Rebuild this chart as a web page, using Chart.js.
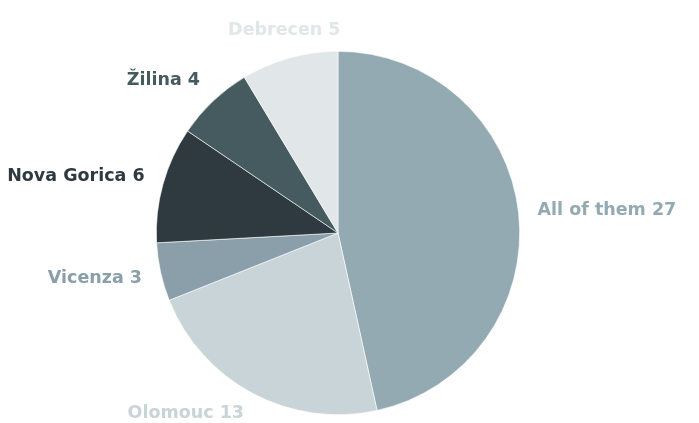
<!DOCTYPE html>
<html>
<head>
<meta charset="utf-8">
<script src="https://cdn.jsdelivr.net/npm/chart.js@4"></script>
<style>
  html, body { margin: 0; padding: 0; background: #fff; }
  #wrap { width: 699px; height: 423px; }
</style>
</head>
<body>
<div id="wrap"><canvas id="pie"></canvas></div>
<script>
const labels = ['All of them', 'Olomouc', 'Vicenza', 'Nova Gorica', 'Žilina', 'Debrecen'];
const counts = [27, 13, 3, 6, 4, 5];
const colors = ['#93aab2', '#c9d4d9', '#8a9fa9', '#2e3a40', '#455b60', '#e1e6e9'];

const labelFont = 'bold 17.5px "DejaVu Sans", sans-serif';

// draw "name value" outside each slice, in the slice colour
const outsideLabels = {
    id: 'outsideLabels',
    afterDatasetsDraw(chart) {
        const ctx = chart.ctx;
        const meta = chart.getDatasetMeta(0);
        const h = 18;
        ctx.save();
        ctx.font = labelFont;
        ctx.textBaseline = 'middle';
        meta.data.forEach((arc, i) => {
            const mid = (arc.startAngle + arc.endAngle) / 2;
            const r = arc.outerRadius + 19;
            const dx = Math.cos(mid), dy = Math.sin(mid);
            const x = arc.x + dx * r;
            let y = arc.y + dy * r + dy * h / 2;
            y = Math.min(Math.max(y, h / 2 + 2), chart.height - h / 2 - 1);
            ctx.textAlign = Math.abs(dx) < 0.3 ? 'center' : (dx > 0 ? 'left' : 'right');
            ctx.fillStyle = colors[i];
            ctx.fillText(labels[i] + ' ' + counts[i], x, y);
        });
        ctx.restore();
    }
};

new Chart(document.getElementById('pie'), {
    type: 'pie',
    data: {
        labels: labels,
        datasets: [{
            data: counts,
            backgroundColor: colors,
            borderColor: '#ffffff',
            borderWidth: 0.6
        }]
    },
    options: {
        responsive: true,
        maintainAspectRatio: false,
        animation: false,
        layout: { padding: { top: 51, bottom: 8, left: 156, right: 179 } },
        plugins: { legend: { display: false }, tooltip: { enabled: false } }
    },
    plugins: [outsideLabels]
});
</script>
</body>
</html>
